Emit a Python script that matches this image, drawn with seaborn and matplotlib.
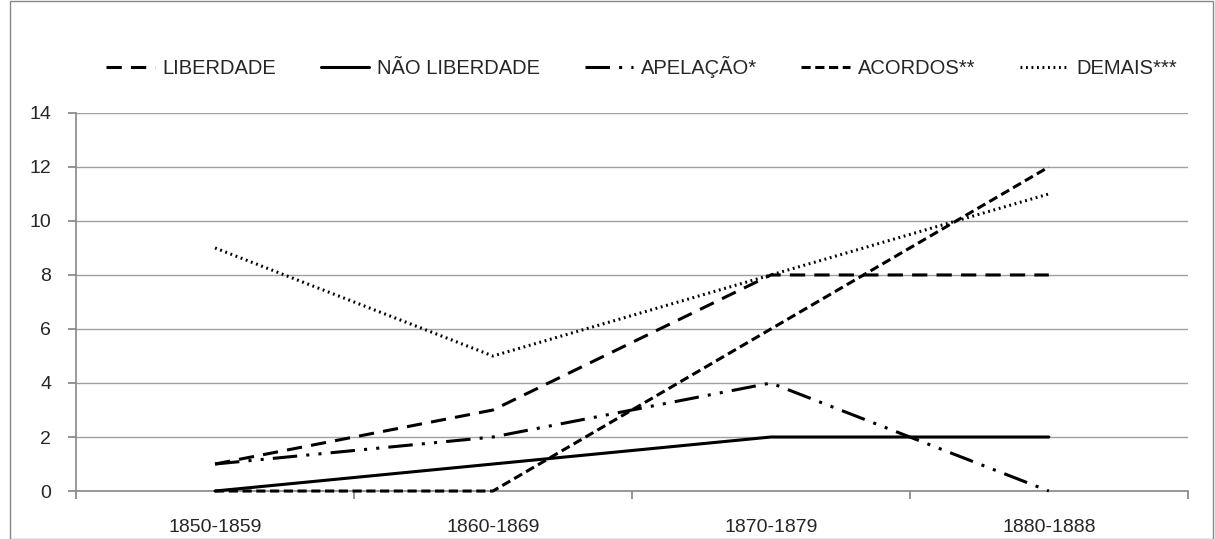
import matplotlib
matplotlib.use("Agg")
import numpy as np
import pandas as pd
import seaborn as sns
from matplotlib import pyplot as plt
from matplotlib.patches import Rectangle

periods = ["1850-1859", "1860-1869", "1870-1879", "1880-1888"]
liberdade = [1, 3, 8, 8]
nao_liberdade = [0, 1, 2, 2]
apelacao = [1, 2, 4, 0]
acordos = [0, 0, 6, 12]
demais = [9, 5, 8, 11]

series_names = ["LIBERDADE", "NÃO LIBERDADE", "APELAÇÃO*", "ACORDOS**", "DEMAIS***"]
series_values = [liberdade, nao_liberdade, apelacao, acordos, demais]

dashes = {
    "LIBERDADE": (5, 3),
    "NÃO LIBERDADE": "",
    "APELAÇÃO*": (8, 3, 1, 3, 1, 3),
    "ACORDOS**": (3, 1.5),
    "DEMAIS***": (0.6, 1.2),
}

rows = []
for name, vals in zip(series_names, series_values):
    for i, v in enumerate(vals):
        rows.append({"pos": i, "serie": name, "valor": v})
df = pd.DataFrame(rows)

sns.set_theme(style="white")
plt.rcParams["font.family"] = ["Liberation Sans Narrow", "Liberation Sans", "DejaVu Sans"]

fig = plt.figure(figsize=(12.15, 5.39), dpi=100)
ax = fig.add_axes([0.0626, 0.089, 0.915, 0.7015])

sns.lineplot(
    data=df, x="pos", y="valor", hue="serie", style="serie",
    hue_order=series_names, style_order=series_names,
    palette=["black"] * 5, dashes=dashes, linewidth=2.2,
    ax=ax, legend=True,
)
for line in ax.lines:
    line.set_zorder(3)
    line.set_clip_on(False)

ax.set_xlim(-0.5, 3.5)
ax.set_ylim(0, 14)
ax.set_yticks(range(0, 15, 2))
ax.yaxis.grid(True, color="#a0a0a0", linewidth=1)
ax.set_axisbelow(True)
ax.set_xticks([-0.5, 0.5, 1.5, 2.5, 3.5])
ax.set_xticklabels([])
ax.set_xticks(range(4), minor=True)
ax.set_xticklabels(periods, minor=True)
ax.tick_params(axis="x", which="minor", length=0, pad=20, labelsize=14)
ax.tick_params(axis="x", which="major", length=6, color="#888888", direction="out")
ax.tick_params(axis="y", length=6, color="#888888", direction="out", labelsize=14, pad=12)
ax.xaxis.set_ticks_position("bottom")
ax.yaxis.set_ticks_position("left")
ax.set_xlabel("")
ax.set_ylabel("")
for side in ["top", "right"]:
    ax.spines[side].set_visible(False)
for side in ["left", "bottom"]:
    ax.spines[side].set_color("#888888")
    ax.spines[side].set_linewidth(1.2)

handles, labels = ax.get_legend_handles_labels()
ax.legend(
    handles, labels, ncol=5, frameon=False, fontsize=14.5,
    loc="center", bbox_to_anchor=(0.528, 0.875), bbox_transform=fig.transFigure,
    handlelength=2.4, columnspacing=2.2, handletextpad=0.4,
)

fig.patches.append(Rectangle((10 / 1215, 0), 1 - 12 / 1215, 0.998, transform=fig.transFigure,
                             fill=False, edgecolor="#888888", linewidth=1))

fig.savefig("out.png", dpi=100)
